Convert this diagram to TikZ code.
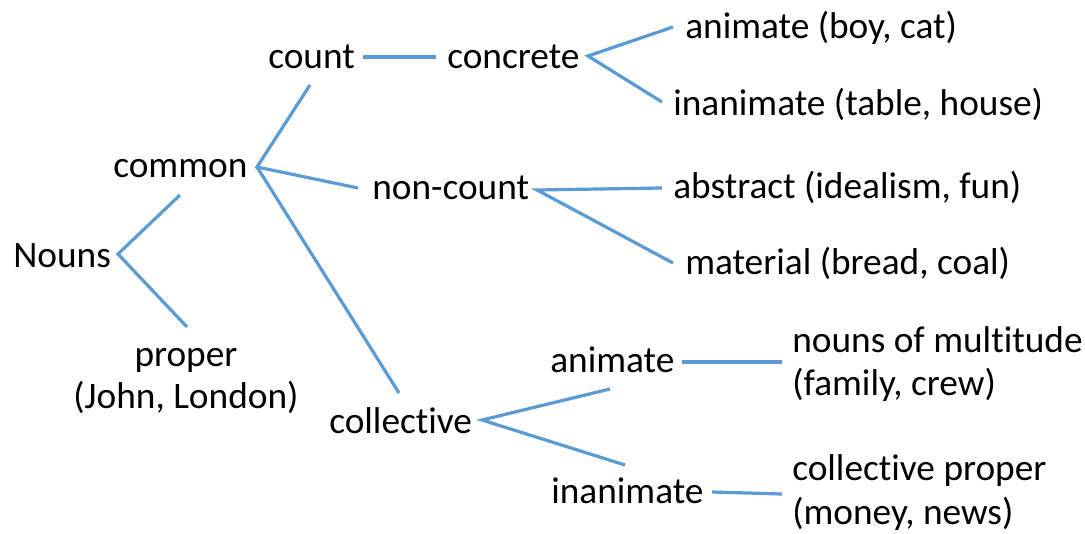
\documentclass[tikz,border=0pt]{standalone}
\usepackage{fontspec}
\setmainfont{Carlito}[Ligatures=NoCommon]
\definecolor{linkblue}{RGB}{91,155,213}
\begin{document}
\begin{tikzpicture}[x=0.75pt,y=-0.75pt,
  lbl/.style={inner sep=0pt,anchor=base west,font=\fontsize{28}{32}\selectfont,text=black},
  twol/.style={inner sep=0pt,anchor=base west,align=left,font=\fontsize{28}{32.5}\selectfont,text=black},
  link/.style={draw=linkblue,line width=2.4pt}]
\useasboundingbox (0,0) rectangle (1085,534);
% nodes
\node[lbl] (nouns) at (13,268) {Nouns};
\node[lbl] (common) at (113,178) {common};
\node[lbl] (count) at (268,69) {count};
\node[lbl] (concrete) at (447,69) {concrete};
\node[lbl] (noncount) at (372,200) {non-count};
\node[lbl] (collective) at (329,433) {collective};
\node[lbl] (cani) at (550,373) {animate};
\node[lbl] (cinani) at (551,503) {inanimate};
\node[lbl] (animate) at (685,39) {animate (boy, cat)};
\node[lbl] (inanimate) at (673,116) {inanimate (table, house)};
\node[lbl] (abstract) at (673,199) {abstract (idealism, fun)};
\node[lbl] (material) at (685,275) {material (bread, coal)};
\node[twol] (multitude) at (792,396) {nouns of multitude\\(family, crew)};
\node[twol] (colproper) at (792,524) {collective proper\\(money, news)};
\node[inner sep=0pt,anchor=base,align=center,font=\fontsize{28}{30.8}\selectfont] (proper) at (186,408) {proper\\(John, London)};
% connector end points
\coordinate (vN) at (118,254);
\coordinate (eNc) at (180,195);
\coordinate (eNp) at (187,327);
\coordinate (vC) at (257,167);
\coordinate (eCc) at (310,85);
\coordinate (eCn) at (358,188);
\coordinate (eCl) at (399,393);
\coordinate (sCo) at (363,57);
\coordinate (eCo) at (436,57);
\coordinate (vCr) at (588,56);
\coordinate (eCra) at (673,27);
\coordinate (eCri) at (662,102);
\coordinate (vNc) at (537,190);
\coordinate (eNca) at (662,188);
\coordinate (eNcm) at (673,263);
\coordinate (vCl) at (482,420);
\coordinate (eCla) at (610,389);
\coordinate (eCli) at (625,465);
\coordinate (sA) at (682,362);
\coordinate (eA) at (782,362);
\coordinate (sI) at (712,492);
\coordinate (eI) at (782,494);
% connectors
\draw[link] (eNc) -- (vN) -- (eNp);
\draw[link] (eCc) -- (vC) -- (eCn);
\draw[link] (vC) -- (eCl);
\draw[link] (sCo) -- (eCo);
\draw[link] (eCra) -- (vCr) -- (eCri);
\draw[link] (eNca) -- (vNc) -- (eNcm);
\draw[link] (eCla) -- (vCl) -- (eCli);
\draw[link] (sA) -- (eA);
\draw[link] (sI) -- (eI);
\end{tikzpicture}
\end{document}
